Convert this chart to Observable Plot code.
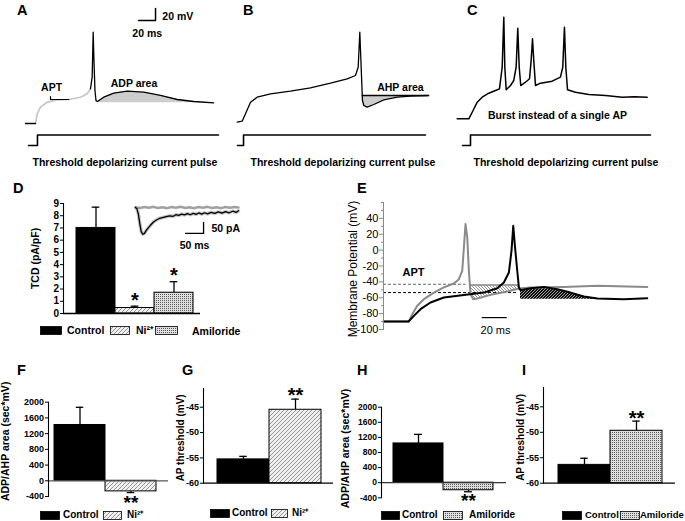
<!DOCTYPE html>
<html><head><meta charset="utf-8">
<script src="https://cdn.jsdelivr.net/npm/d3@7"></script>
<script src="https://cdn.jsdelivr.net/npm/@observablehq/plot@0.6"></script>
<style>
body{margin:0;background:#fff;}
#root{position:relative;width:685px;height:521px;overflow:hidden;background:#fff;font-family:'Liberation Sans',Arial,sans-serif;color:#000;}
.lbl{position:absolute;font-weight:bold;line-height:1;white-space:nowrap;}
.wrap{position:absolute;}
</style></head><body>
<svg width="0" height="0" style="position:absolute">
<defs>
<pattern id="hatchNi" patternUnits="userSpaceOnUse" width="4" height="4"><rect width="4" height="4" fill="#efefef"/><path d="M-1,1 l2,-2 M0,4 l4,-4 M3,5 l2,-2" stroke="#8c8c8c" stroke-width="0.9"/></pattern>
<pattern id="checkAm" patternUnits="userSpaceOnUse" width="2" height="2"><rect width="2" height="2" fill="#dedede"/><rect width="1" height="1" fill="#5a5a5a"/></pattern>
<pattern id="hatchE1" patternUnits="userSpaceOnUse" width="3" height="3"><rect width="3" height="3" fill="#fff"/><path d="M0,0 l3,3 M-1,2 l2,2 M2,-1 l2,2" stroke="#777" stroke-width="0.8"/></pattern>
<pattern id="hatchE2" patternUnits="userSpaceOnUse" width="3" height="3"><rect width="3" height="3" fill="#111"/><path d="M-1,1 l2,-2 M0,3 l3,-3 M2,4 l2,-2" stroke="#d8d8d8" stroke-width="0.7"/></pattern>
</defs></svg>
<div id="root"></div>
<script>
// ---------- DATA ----------
// Panel A trace (ms, mV)
const aBase = [[29.3,-70],[41.1,-70]];
const aRise = [[41.1,-70],[43.1,-53.8],[46.9,-42.8],[54.8,-34.5],[66.5,-30.5],[80.2,-30],[93.9,-26.2],[101.8,-20.5],[105.6,-12.2]];
const aSpike = [[105.6,-12.2],[107.6,7.2],[108.8,82.2],[109.7,35],[110.9,-15],[112.1,-31.7],[113.8,-33.3],[121.2,-26.2],[133,-19.5],[148.7,-16.2],[168.2,-17.8],[187.8,-23.3],[207.4,-30],[226.9,-33.3],[250.4,-35.5]];
const aAdpBase = -35.5;
const aApt = [[58.7,-25],[58.7,-30],[80.2,-30]];
const aScaleBar = [[162,101.7],[182,101.7],[182,121.7]];
const pulseA = [[32.9,0],[43.4,0],[43.4,1],[255.9,1]];
// Panel B
const bTrace = [[7.9,-67.8],[13.7,-66.2],[17.6,-53.8],[23.5,-34.5],[31.3,-26.2],[46.9,-20.5],[70.4,-16.2],[93.9,-10.5],[117.4,-2.8],[137,4.5],[146.7,10],[149.9,23.8],[151.8,82.2],[153.4,23.8],[154.9,-31.7],[156.5,-40],[160.4,-42.8],[168.2,-38.3],[179.9,-30.5],[195.7,-26.2],[211.3,-24.5],[232.7,-23.3]];
const bAhpBase = -23.3;
const pulseB = [[8.2,0],[15.3,0],[15.3,1],[228.9,1]];
// Panel C
const cTrace = [[2,-62.2],[15.6,-62.2],[19.6,-51.2],[25.5,-34.5],[31.3,-26.2],[39.1,-19.5],[46.9,-15],[51.6,-12.2],[54.8,23.8],[56.7,107.2],[57.9,23.8],[59.5,-13.8],[64.6,-6.7],[68.4,1.7],[71.2,23.8],[73.1,88.8],[74.8,23.8],[76.6,-6.7],[82.2,-1.2],[86.9,4.5],[88.8,35],[90.4,71.2],[91.9,35],[93.9,-6.7],[99.8,-2.8],[113.5,0.5],[123.2,7.2],[125.9,23.8],[127.9,90.5],[129.5,23.8],[131.5,-13.8],[140.8,-17.8],[156.5,-21.7],[176.1,-23.3],[195.7,-26.2],[210,-25.5],[225,-26.2]];
const pulseC = [[8.2,0],[17.6,0],[17.6,1],[228.9,1]];
// Panel D bars
const dCats = ["Control","Ni²⁺","Amiloride"];
const dVals = [7.0, 0.45, 1.7];
const dErr = [8.7, 0.6, 2.6];
const dStars = ["", "*", "*"];
const dTicks = [0,1,2,3,4,5,6,7,8,9];
// Panel D inset (ms, pA)
const insetGray = [[0,1],[12,-2],[25,2],[38,-1],[50,3],[62,-2],[75,1],[88,-3],[100,2],[112,-1],[125,3],[138,-2],[150,1],[162,-3],[175,2],[188,-1],[200,3],[212,-2],[225,1],[238,-3],[250,2],[262,-1],[275,2],[286,0]];
const insetBlack = [[0,0],[4,-6],[8,-30],[12,-75],[16,-110],[20,-122],[25,-118],[30,-104],[36,-92],[42,-80],[50,-66],[58,-57],[66,-50],[75,-46],[85,-42],[95,-38],[105,-40],[112,-33],[120,-36],[128,-30],[136,-34],[144,-28],[152,-33],[160,-27],[168,-31],[176,-25],[184,-30],[192,-24],[200,-29],[210,-22],[220,-27],[230,-20],[240,-26],[250,-19],[260,-24],[270,-17],[280,-22],[286,-15]];
const insetScaleBar = [[139,-118],[189,-118],[189,-68]];
// Panel E (ms, mV)
const eGray = [[0,-90],[20.3,-90],[23,-80.7],[27,-70],[32.3,-61.8],[40.3,-53.5],[48.3,-47],[56.3,-42],[60.3,-36.6],[63,-26],[64.3,3],[65.6,32.8],[67,16],[68.3,-26],[69.6,-55.5],[71.8,-61.8],[75,-61],[85.6,-56.4],[99,-52.2],[108.3,-48.4],[117.6,-47.1],[144.3,-46.3],[171,-45],[211,-46.3]];
const eBlack = [[0,-90],[20,-90],[24.3,-82.9],[29.6,-74.4],[37.6,-66],[48.3,-59.7],[64.3,-56.4],[80.3,-53.5],[91,-48],[96.3,-40.8],[100.3,-28.2],[102.4,-0.9],[103.8,30.6],[105,7.5],[107,-26],[108.3,-47],[109.6,-50.4],[117.6,-47.9],[128.3,-46.3],[139,-49.2],[149.6,-53.5],[160.3,-58.5],[171,-61],[192.3,-61.8],[211,-60.5]];
const aptNi = -43, aptCtrl = -53.5, eAhpTop = -44, eAdpBase = -62;
const eTicks = [-100,-80,-60,-40,-20,0,20,40];
const eMinor = [-90,-70,-50,-30,-10,10,30,50,60];
// Panels F-I
const fCats = ["Control","Ni²⁺"], fVals = [1420,-270], fErr = [1870,-300];
const gCats = ["Control","Ni²⁺"], gVals = [-55.3,-45.5], gErr = [-54.7,-43.4];
const hCats = ["Control","Amiloride"], hVals = [1040,-200], hErr = [1280,-240];
const iCats = ["Control","Amiloride"], iVals = [-56.4,-49.7], iErr = [-55.1,-47.8];
const areaTicks = [-400,0,400,800,1200,1600,2000];
const thrTicks = [-60,-55,-50,-45];
const fillOf = {"Control":"#000","Ni²⁺":"url(#hatchNi)","Amiloride":"url(#checkAm)"};

// ---------- HELPERS ----------
const FONT = "'Liberation Sans', Arial, sans-serif";
const baseStyle = {background:"transparent", overflow:"visible", fontFamily:FONT};
const pts = a => a.map(([t,v]) => ({t, v}));
const root = document.getElementById("root");
function place(el, left, top) {
  const d = document.createElement("div");
  d.className = "wrap"; d.style.left = left + "px"; d.style.top = top + "px";
  d.appendChild(el); root.appendChild(d);
}
function label(text, left, top, size, center) {
  const d = document.createElement("div");
  d.className = "lbl"; d.textContent = text;
  d.style.fontSize = size + "px";
  d.style.left = left + "px"; d.style.top = top + "px";
  if (center) d.style.transform = "translate(-50%,-50%)";
  root.appendChild(d);
}
const T = (s, o) => Plot.text([s], {text: d => d, fontWeight:"bold", fontSize:10.5, ...o});

function tracePlot(marks) {
  return Plot.plot({width:230, height:130, margin:0,
    x:{domain:[0,270], range:[0,230], axis:null},
    y:{domain:[-70,0], range:[123,81], axis:null},
    style: baseStyle, marks});
}
function pulsePlot(p) {
  return Plot.plot({width:230, height:24, margin:0,
    x:{domain:[0,270], range:[0,230], axis:null},
    y:{domain:[0,1], range:[17,6.5], axis:null},
    style: baseStyle,
    marks:[Plot.line(pts(p), {x:"t", y:"v", stroke:"#000", strokeWidth:1.6})]});
}

// ---------- A ----------
place(tracePlot([
  Plot.areaY(pts(aSpike).filter(d => d.t >= 112.1), {x:"t", y1:aAdpBase, y2:"v", fill:"#cdcdcd"}),
  Plot.line(pts(aRise), {x:"t", y:"v", stroke:"#c6c6c6", strokeWidth:1.7}),
  Plot.line(pts(aBase), {x:"t", y:"v", stroke:"#000", strokeWidth:1.3}),
  Plot.line(pts(aSpike), {x:"t", y:"v", stroke:"#000", strokeWidth:1.3}),
  Plot.line(pts(aApt), {x:"t", y:"v", stroke:"#000", strokeWidth:1.2}),
  Plot.line(pts(aScaleBar), {x:"t", y:"v", stroke:"#000", strokeWidth:1.5}),
  T("20 mV", {x:190, y:108.3, textAnchor:"start"}),
  T("20 ms", {x:172.2, y:79.5}),
  T("APT", {x:60, y:-10}),
  T("ADP area", {x:156.7, y:-3.8})
]), 0, 0);
place(pulsePlot(pulseA), 0, 128);

// ---------- B ----------
place(tracePlot([
  Plot.areaY(pts(bTrace).filter(d => d.t >= 154.9), {x:"t", y1:bAhpBase, y2:"v", fill:"#cdcdcd"}),
  Plot.ruleY([bAhpBase], {x1:154.5, x2:232.7, stroke:"#000", strokeWidth:1.3}),
  Plot.line(pts(bTrace), {x:"t", y:"v", stroke:"#000", strokeWidth:1.3}),
  T("AHP area", {x:199.5, y:-10})
]), 230, 0);
place(pulsePlot(pulseB), 230, 128);

// ---------- C ----------
place(tracePlot([
  Plot.line(pts(cTrace), {x:"t", y:"v", stroke:"#000", strokeWidth:1.5}),
  T("Burst instead of a single AP", {x:119.7, y:-56.7})
]), 455, 0);
place(pulsePlot(pulseC), 455, 128);

label("Threshold depolarizing current pulse", 125, 162, 10.5, true);
label("Threshold depolarizing current pulse", 343, 162, 10.5, true);
label("Threshold depolarizing current pulse", 566, 162, 10.5, true);

// ---------- bar panels ----------
function barPanel(o) {
  const rows = o.cats.map((c,i) => ({cat:c, v:o.vals[i], e:o.errs[i], s:(o.stars||[])[i]}));
  const bw = (o.xRange[1]-o.xRange[0]) / o.cats.length;
  const capInset = (bw - 8) / 2;
  return Plot.plot({
    width:o.width, height:o.height, marginLeft:o.ml, marginRight:o.mr, marginTop:o.mt, marginBottom:o.mb,
    x:{type:"band", domain:o.cats, range:o.xRange, padding:0, axis:null},
    y:{domain:o.yDomain},
    color:{type:"ordinal", domain:o.cats, range:o.cats.map(c => fillOf[c])},
    style:{...baseStyle, fontWeight:"bold"},
    marks:[
      Plot.ruleX(rows, {x:"cat", y1:"v", y2:"e", strokeWidth:1.3}),
      Plot.tickY(rows, {x:"cat", y:"e", insetLeft:capInset, insetRight:capInset, strokeWidth:1.3}),
      Plot.barY(rows, {x:"cat", y1:o.base, y2:"v", fill:"cat", stroke:"#000", strokeWidth:1}),
      Plot.ruleY([o.rule], {stroke:o.ruleStroke, strokeWidth:1.3}),
      Plot.frame({anchor:"left", strokeWidth:1.1}),
      Plot.axisY({ticks:o.ticks, tickSize:3, tickPadding:1.5, tickFormat:d => String(d), fontSize:o.tickFont, fontWeight:"bold", label:null}),
      Plot.text(rows.filter(r => r.s), {x:"cat", y:"e", text:"s", dy:o.starDy, fontSize:o.starSize || 20, fontWeight:"bold"}),
      Plot.text([o.label], {text:d => d, frameAnchor:"left", textAnchor:"middle", rotate:-90, dx:o.labelDx, dy:o.labelDy, fontSize:o.labelFont, fontWeight:"bold"})
    ]});
}

place(barPanel({cats:dCats, vals:dVals, errs:dErr, stars:dStars, width:250, height:140, ml:63, mr:50, mt:13, mb:17,
  xRange:[75,193], yDomain:[0,9], base:0, rule:0, ruleStroke:"#000", ticks:dTicks, tickFont:10,
  label:"TCD (pA/pF)", labelDx:-28, labelDy:0, labelFont:10.5, starDy:-5.8}), 0, 190);

// inset traces in D
place(Plot.plot({width:115, height:55, margin:0,
  x:{domain:[0,286], range:[5,108], axis:null},
  y:{domain:[-114,0], range:[32,7], axis:null},
  style:baseStyle,
  marks:[
    Plot.line(pts(insetBlack), {x:"t", y:"v", stroke:"#c4c4c4", strokeWidth:3.5}),
    Plot.line(pts(insetGray), {x:"t", y:"v", stroke:"#a0a0a0", strokeWidth:2.5}),
    Plot.line(pts(insetBlack), {x:"t", y:"v", stroke:"#000", strokeWidth:1.3}),
    Plot.line(pts(insetScaleBar), {x:"t", y:"v", stroke:"#000", strokeWidth:1.3}),
    T("50 pA", {x:211, y:-95, textAnchor:"start"}),
    T("50 ms", {x:164, y:-173})
  ]}), 130, 200);

// ---------- E ----------
place(Plot.plot({width:355, height:160, marginLeft:53, marginRight:38, marginTop:22, marginBottom:11,
  x:{domain:[0,211.2], axis:null},
  y:{domain:[-100,60]},
  style:baseStyle,
  marks:[
    Plot.areaY(pts(eGray).filter(d => d.t >= 69.6 && d.t <= 108.3), {x:"t", y1:eAhpTop, y2:"v", fill:"url(#hatchE1)"}),
    Plot.areaY(pts(eBlack).filter(d => d.t >= 109.6 && d.t <= 171), {x:"t", y1:eAdpBase, y2:"v", fill:"url(#hatchE2)"}),
    Plot.ruleY([eAhpTop], {x1:69.6, x2:108.3, stroke:"#888", strokeWidth:1.5}),
    Plot.ruleY([aptNi], {x1:0, x2:66, stroke:"#666", strokeDasharray:"3,2", strokeWidth:1}),
    Plot.ruleY([aptCtrl], {x1:0, x2:107, stroke:"#000", strokeDasharray:"3,2", strokeWidth:1}),
    Plot.line(pts(eGray), {x:"t", y:"v", stroke:"#8a8a8a", strokeWidth:2}),
    Plot.line(pts(eBlack), {x:"t", y:"v", stroke:"#000", strokeWidth:2}),
    Plot.frame({anchor:"left", stroke:"#888"}),
    Plot.axisY({ticks:eMinor, tickSize:2, text:null, stroke:"#888", label:null}),
    Plot.axisY({ticks:eTicks, tickSize:4, tickPadding:1, tickFormat:d => String(d), fontSize:11, stroke:"#888", label:null}),
    Plot.text(["Membrane Potential (mV)"], {text:d => d, frameAnchor:"left", textAnchor:"middle", rotate:-90, dx:-30, dy:3, fontSize:12}),
    Plot.text(["APT"], {text:d => d, x:24, y:-28, fontSize:11, fontWeight:"bold"}),
    Plot.ruleY([-85], {x1:79, x2:99, stroke:"#000", strokeWidth:1.2}),
    Plot.text(["20 ms"], {text:d => d, x:89.6, y:-101.5, fontSize:11})
  ]}), 330, 180);

// ---------- F, G, H, I ----------
place(barPanel({cats:fCats, vals:fVals, errs:fErr, stars:["","**"], width:170, height:150, ml:48, mr:2, mt:41.7, mb:14,
  xRange:[53,156], yDomain:[-400,2000], base:0, rule:0, ruleStroke:"#555", ticks:areaTicks, tickFont:9,
  label:"ADP/AHP area (sec*mV)", labelDx:-43, labelDy:-8, labelFont:10.5, starDy:10.5, starSize:19}), 0, 360);
place(barPanel({cats:gCats, vals:gVals, errs:gErr, stars:["","**"], width:170, height:150, ml:33, mr:7, mt:28, mb:27.3,
  xRange:[46,151], yDomain:[-60,-41.3], base:-60, rule:-60, ruleStroke:"#000", ticks:thrTicks, tickFont:9,
  label:"AP threshold (mV)", labelDx:-23, labelDy:2, labelFont:10, starDy:-3.3}), 170, 360);
place(barPanel({cats:hCats, vals:hVals, errs:hErr, stars:["","**"], width:170, height:150, ml:41, mr:4, mt:46.7, mb:12.7,
  xRange:[53,153], yDomain:[-400,2000], base:0, rule:0, ruleStroke:"#333", ticks:areaTicks, tickFont:8.5,
  label:"ADP/AHP area (sec*mV)", labelDx:-36, labelDy:-4, labelFont:10.5, starDy:9.5, starSize:19}), 340, 360);
place(barPanel({cats:iCats, vals:iVals, errs:iErr, stars:["","**"], width:175, height:150, ml:33, mr:10, mt:27, mb:27.3,
  xRange:[47,152], yDomain:[-60,-41.2], base:-60, rule:-60, ruleStroke:"#000", ticks:thrTicks, tickFont:9,
  label:"AP threshold (mV)", labelDx:-23, labelDy:2, labelFont:10, starDy:-2.6}), 510, 360);

// ---------- legends (HTML) ----------
function legend(y, size, items) {
  items.forEach(it => {
    if (it.cat) {
      const s = document.createElementNS("http://www.w3.org/2000/svg", "svg");
      s.setAttribute("width", it.w); s.setAttribute("height", 9);
      s.style.position = "absolute"; s.style.left = it.x + "px"; s.style.top = (y - 4.5) + "px";
      const r = document.createElementNS("http://www.w3.org/2000/svg", "rect");
      r.setAttribute("x", 0.5); r.setAttribute("y", 0.5); r.setAttribute("width", it.w - 1); r.setAttribute("height", 8);
      r.setAttribute("fill", fillOf[it.cat]); r.setAttribute("stroke", "#000"); r.setAttribute("stroke-width", 0.8);
      s.appendChild(r); root.appendChild(s);
    } else {
      label(it.text, it.x, y - size * 0.52 + (it.dy || 0), size, false);
    }
  });
}
legend(330, 10.5, [{cat:"Control", x:40, w:22}, {text:"Control", x:67}, {cat:"Ni²⁺", x:110, w:20}, {text:"Ni²⁺", x:136},
  {cat:"Amiloride", x:155, w:23}, {text:"Amiloride", x:192, dy:1}]);
legend(515, 10, [{cat:"Control", x:40, w:20}, {text:"Control", x:63}, {cat:"Ni²⁺", x:103, w:19}, {text:"Ni²⁺", x:127}]);
legend(513, 10, [{cat:"Control", x:210, w:20}, {text:"Control", x:232}, {cat:"Ni²⁺", x:271, w:17}, {text:"Ni²⁺", x:292}]);
legend(515, 10, [{cat:"Control", x:381, w:19}, {text:"Control", x:402}, {cat:"Amiloride", x:443, w:20}, {text:"Amiloride", x:469}]);
legend(515, 9.5, [{cat:"Control", x:562, w:20}, {text:"Control", x:585}, {cat:"Amiloride", x:620, w:20}, {text:"Amiloride", x:640}]);

// ---------- panel letters ----------
[["A",17,3],["B",243,3],["C",467,3],["D",13,181],["E",357,181],["F",17,363],["G",182,363],["H",357,363],["I",522,363]]
  .forEach(([t,x,y]) => label(t, x, y, 14.5, false));
</script></body></html>
